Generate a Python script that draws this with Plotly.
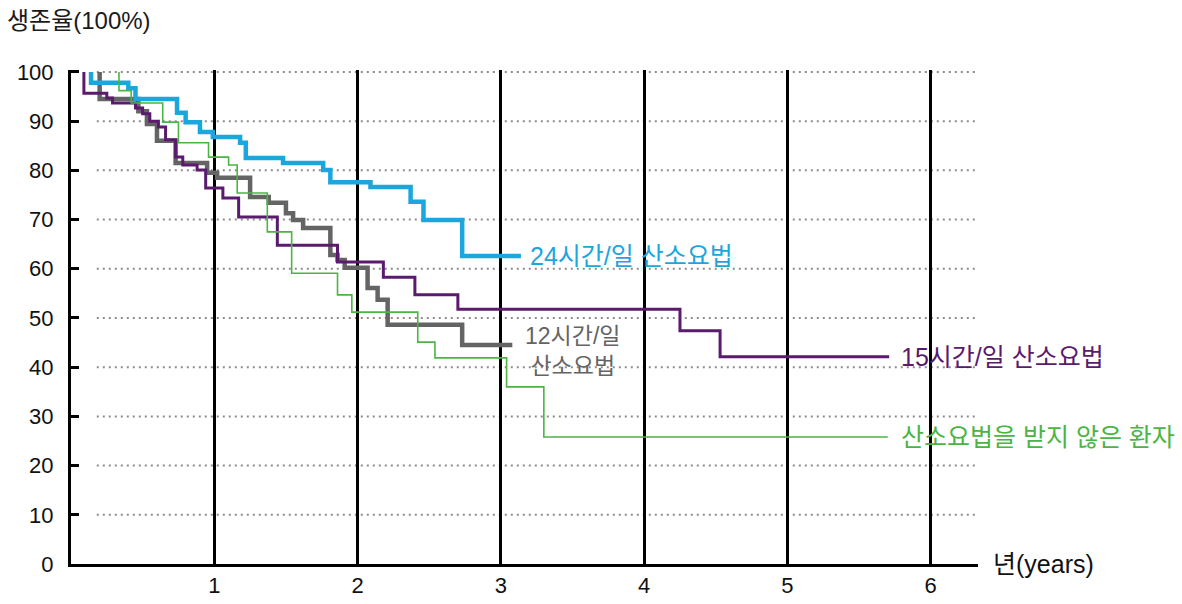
import plotly.graph_objects as go

# ---- data ----
years_24h = [0.14, 0.14, 0.40, 0.45, 0.74, 0.80, 0.90, 0.99, 1.18, 1.22, 1.48, 1.76, 1.81, 2.09, 2.37, 2.46, 2.73, 3.14]
surv_24h = [100, 97.8, 96.7, 94.5, 91.7, 89.8, 87.8, 86.8, 85.6, 82.5, 81.5, 80.1, 77.6, 76.6, 73.6, 69.9, 62.6, 62.6]

years_12h = [0.20, 0.20, 0.47, 0.53, 0.60, 0.73, 0.95, 1.02, 1.25, 1.38, 1.50, 1.55, 1.62, 1.81, 1.86, 1.91, 2.07, 2.14, 2.21, 2.73, 3.08]
surv_12h = [100, 94.5, 92.0, 89.4, 86.0, 81.5, 79.5, 78.5, 74.6, 73.4, 71.3, 69.9, 68.3, 62.8, 61.8, 60.2, 56.1, 53.7, 48.6, 44.5, 44.5]

years_15h = [0.09, 0.09, 0.25, 0.29, 0.45, 0.50, 0.55, 0.61, 0.66, 0.73, 0.78, 0.88, 0.94, 1.06, 1.17, 1.44, 1.86, 2.18, 2.40, 2.70, 4.25, 4.53, 5.71]
surv_15h = [100, 95.7, 94.7, 93.7, 92.7, 91.5, 90.0, 88.8, 86.2, 82.7, 81.1, 80.1, 76.4, 74.4, 70.5, 64.8, 61.4, 58.3, 54.7, 51.8, 47.4, 42.1, 42.1]

years_none = [0.335, 0.335, 0.42, 0.64, 0.75, 0.96, 1.10, 1.16, 1.37, 1.54, 1.86, 1.96, 2.42, 2.54, 3.04, 3.30, 5.70]
surv_none = [100, 96.2, 93.7, 89.8, 85.6, 82.7, 81.1, 75.4, 67.5, 59.1, 54.7, 51.2, 45.1, 41.9, 36.0, 25.8, 25.8]

y_ticks = [0, 10, 20, 30, 40, 50, 60, 70, 80, 90, 100]
x_ticks = [1, 2, 3, 4, 5, 6]

label_24h = "24시간/일 산소요법"
label_12h = "12시간/일<br>산소요법"
label_15h = "15시간/일 산소요법"
label_none = "산소요법을 받지 않은 환자"
y_title = "생존율(100%)"
x_title = "년(years)"

FONT = "Liberation Sans, Arial, Noto Sans CJK KR, sans-serif"
C_BLUE = "#1ba6de"
C_GRAY = "#646464"
C_PURPLE = "#5a1a6e"
C_GREEN = "#4bb543"

fig = go.Figure()

fig.add_trace(go.Scatter(x=years_12h, y=surv_12h, mode="lines", line_shape="hv",
                         line=dict(color=C_GRAY, width=4.5), hoverinfo="skip"))
fig.add_trace(go.Scatter(x=years_15h, y=surv_15h, mode="lines", line_shape="hv",
                         line=dict(color=C_PURPLE, width=3), hoverinfo="skip"))
fig.add_trace(go.Scatter(x=years_24h, y=surv_24h, mode="lines", line_shape="hv",
                         line=dict(color=C_BLUE, width=4.5), hoverinfo="skip"))
fig.add_trace(go.Scatter(x=years_none, y=surv_none, mode="lines", line_shape="hv",
                         line=dict(color=C_GREEN, width=1.6), hoverinfo="skip"))

# dotted horizontal guide lines (start a little right of the y axis)
for v in y_ticks[1:]:
    fig.add_shape(type="line", xref="x", yref="y", x0=0.18, x1=6.33, y0=v, y1=v,
                  line=dict(color="#8c8c8c", width=2, dash="2px,4px"), layer="below")

# text labels
fig.add_annotation(x=3.19, y=62.6, xref="x", yref="y", text=label_24h, showarrow=False,
                   xanchor="left", yanchor="middle", font=dict(family=FONT, size=25, color=C_BLUE))
fig.add_annotation(x=3.50, y=43.3, xref="x", yref="y", text=label_12h, showarrow=False,
                   xanchor="center", yanchor="middle", align="center",
                   font=dict(family=FONT, size=23, color=C_GRAY))
fig.add_annotation(x=5.78, y=42.1, xref="x", yref="y", text=label_15h, showarrow=False,
                   xanchor="left", yanchor="middle", font=dict(family=FONT, size=25, color=C_PURPLE))
fig.add_annotation(x=5.78, y=25.8, xref="x", yref="y", text=label_none, showarrow=False,
                   xanchor="left", yanchor="middle", font=dict(family=FONT, size=25, color=C_GREEN))
fig.add_annotation(x=1, y=0, xref="paper", yref="y", text=x_title, showarrow=False,
                   xanchor="left", yanchor="middle", xshift=13,
                   font=dict(family=FONT, size=25, color="#111111"))
fig.add_annotation(x=-0.0695, y=1.101, xref="paper", yref="paper", text=y_title, showarrow=False,
                   xanchor="left", yanchor="middle", xshift=-3,
                   font=dict(family=FONT, size=24, color="#1a1a1a"))

fig.update_layout(
    width=1182, height=604,
    margin=dict(l=71, r=204, t=70, b=40, autoexpand=False),
    paper_bgcolor="white", plot_bgcolor="white",
    showlegend=False,
    font=dict(family=FONT, size=22, color="#111111"),
    xaxis=dict(range=[0, 6.33], tickvals=x_ticks, ticktext=[str(t) for t in x_ticks],
               showgrid=True, gridcolor="#000000", gridwidth=2.5,
               showline=True, linecolor="#000000", linewidth=3,
               ticks="", zeroline=False, fixedrange=True, automargin=False,
               tickfont=dict(family=FONT, size=22, color="#111111")),
    yaxis=dict(range=[0, 100.4], tickvals=y_ticks, ticktext=[str(t) for t in y_ticks],
               showgrid=False, showline=True, linecolor="#000000", linewidth=3,
               ticks="inside", ticklen=8, tickwidth=3, tickcolor="#000000",
               ticklabelstandoff=10, zeroline=False, fixedrange=True, automargin=False,
               tickfont=dict(family=FONT, size=22, color="#111111")),
)

fig.write_html("out.html", config={"displayModeBar": False},
               post_script="document.body.style.margin='0';document.body.style.padding='0';")
